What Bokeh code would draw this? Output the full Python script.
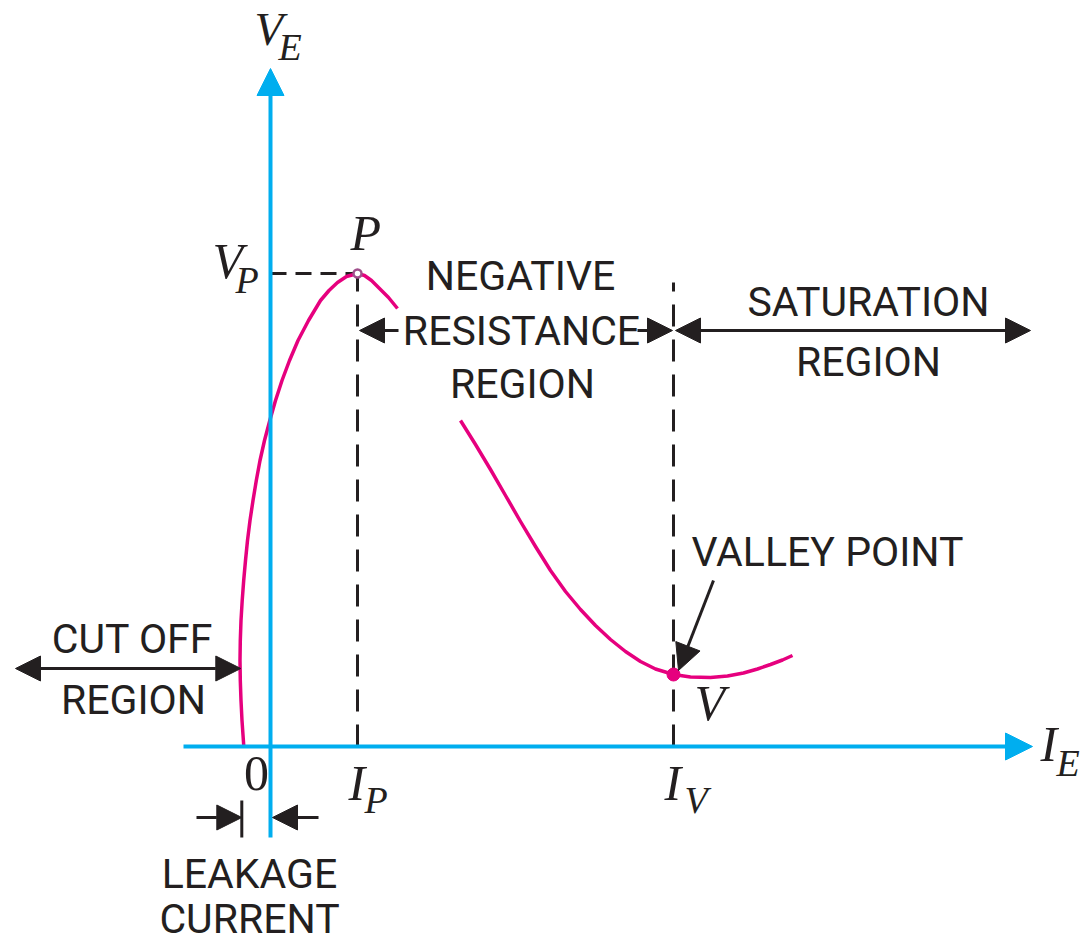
from bokeh.plotting import figure
from bokeh.models import Range1d, Arrow, NormalHead, Label
from bokeh.embed import file_html
from bokeh.resources import INLINE

# ---- data (emitter current I_E, emitter voltage V_E; arbitrary units) ----
ie_rise = [-0.267, -0.285, -0.295, -0.302, -0.305, -0.302, -0.295, -0.283, -0.268, -0.250,
           -0.230, -0.205, -0.175, -0.142, -0.105, -0.060, -0.007, 0.050, 0.115, 0.190,
           0.275, 0.380, 0.500, 0.585, 0.670, 0.760, 0.870, 0.940, 1.010, 1.080, 1.180, 1.270]
ve_rise = [0.00, 0.26, 0.46, 0.66, 0.86, 1.06, 1.26, 1.46, 1.66, 1.86,
           2.06, 2.26, 2.46, 2.66, 2.86, 3.06, 3.26, 3.46, 3.66, 3.86,
           4.06, 4.26, 4.46, 4.56, 4.64, 4.70, 4.73, 4.71, 4.66, 4.59, 4.49, 4.38]
ie_fall = [1.90, 2.05, 2.20, 2.35, 2.50, 2.65, 2.80, 2.95, 3.10, 3.25, 3.40, 3.55,
           3.70, 3.85, 4.03, 4.20, 4.40, 4.57, 4.73, 4.87, 5.00, 5.12, 5.22]
ve_fall = [3.26, 3.02, 2.77, 2.51, 2.25, 2.00, 1.76, 1.55, 1.37, 1.21, 1.07, 0.95,
           0.85, 0.775, 0.72, 0.695, 0.69, 0.705, 0.735, 0.775, 0.82, 0.865, 0.91]
I_P, V_P = 0.87, 4.73      # peak point
I_V, V_V = 4.03, 0.72      # valley point
I_LEAK = -0.267            # leakage current

# ---- layout helpers: reference pixel -> data coordinate ----
def X(px):
    return (px - 270) / 100.0

def Y(py):
    return (746 - py) / 100.0

BLUE = "#00aeef"
PINK = "#e6007e"
INK = "#231f20"
SANS = "Roboto"
SERIF = "Liberation Serif"

W, H = 1091, 945
p = figure(width=W, height=H, x_range=Range1d(X(0), X(W)), y_range=Range1d(Y(H), Y(0)),
           output_backend="svg", toolbar_location=None, min_border=0,
           x_axis_type=None, y_axis_type=None)
p.grid.visible = False
p.outline_line_color = None
p.background_fill_color = "white"
p.border_fill_color = "white"

# dashed guide lines
p.line([0, I_P], [V_P, V_P], line_color=INK, line_width=3, line_dash="16 9")
p.line([I_P, I_P], [0, V_P], line_color=INK, line_width=3, line_dash="22 13")
p.line([I_V, I_V], [0, Y(282)], line_color=INK, line_width=3, line_dash="22 13")

# axes with arrow heads
p.add_layout(Arrow(x_start=X(183), y_start=0, x_end=X(1032), y_end=0, line_color=BLUE, line_width=4,
                   end=NormalHead(size=27, fill_color=BLUE, line_color=BLUE, line_width=1)))
p.add_layout(Arrow(x_start=0, y_start=Y(837), x_end=0, y_end=Y(68), line_color=BLUE, line_width=4,
                   end=NormalHead(size=27, fill_color=BLUE, line_color=BLUE, line_width=1)))

# characteristic curve
p.line(ie_rise, ve_rise, line_color=PINK, line_width=3.5, line_join="round")
p.line(ie_fall, ve_fall, line_color=PINK, line_width=3.5, line_join="round")
p.scatter([I_P], [V_P], size=8, marker="circle", fill_color="white", line_color="#a0508c", line_width=2.5)
p.scatter([I_V], [V_V], size=13, marker="circle", fill_color=PINK, line_color=PINK)

# black annotation arrows
def head(sz=25):
    return NormalHead(size=sz, fill_color=INK, line_color=INK, line_width=1)

# negative resistance region
p.add_layout(Arrow(x_start=X(398), y_start=Y(330), x_end=I_P + 0.02, y_end=Y(330),
                   line_color=INK, line_width=3, end=head()))
p.add_layout(Arrow(x_start=X(637), y_start=Y(330), x_end=I_V - 0.01, y_end=Y(330),
                   line_color=INK, line_width=3, end=head()))
# saturation region
p.add_layout(Arrow(x_start=I_V + 0.02, y_start=Y(330), x_end=X(1030), y_end=Y(330),
                   line_color=INK, line_width=3, start=head(), end=head()))
# cut off region
p.add_layout(Arrow(x_start=X(15), y_start=Y(668), x_end=I_LEAK - 0.03, y_end=Y(668),
                   line_color=INK, line_width=3, start=head(), end=head()))
# valley pointer
p.add_layout(Arrow(x_start=X(713), y_start=Y(580), x_end=I_V + 0.05, y_end=V_V + 0.04,
                   line_color=INK, line_width=3, end=head(26)))
# leakage current arrows
p.add_layout(Arrow(x_start=X(196), y_start=Y(817), x_end=I_LEAK - 0.02, y_end=Y(817),
                   line_color=INK, line_width=3, end=head(25)))
p.add_layout(Arrow(x_start=X(318), y_start=Y(817), x_end=0.02, y_end=Y(817),
                   line_color=INK, line_width=3, end=head(25)))
p.segment(x0=[I_LEAK - 0.02], y0=[Y(800)], x1=[I_LEAK - 0.02], y1=[Y(837)], line_color=INK, line_width=3)

# sans labels (base = pixel row of the letters' bottom edge)
SANS_PX = 41
def sans(txt, cx, base):
    p.add_layout(Label(x=X(cx), y=Y(base - 0.4 * SANS_PX), text=txt, text_font=SANS,
                       text_font_size=f"{SANS_PX}px", text_color=INK, text_align="center",
                       text_baseline="alphabetic"))

sans("NEGATIVE", 520, 292)
sans("RESISTANCE", 521, 347)
sans("REGION", 522, 400)
sans("SATURATION", 868, 318)
sans("REGION", 868, 378)
sans("VALLEY POINT", 827, 568)
sans("CUT OFF", 132, 655)
sans("REGION", 133, 716)
sans("LEAKAGE", 249, 890)
sans("CURRENT", 249, 935)

# serif italic math labels
def serif(txt, left, base, size, style="italic", align="left"):
    p.add_layout(Label(x=X(left), y=Y(base - 0.4 * size), text=txt, text_font=SERIF,
                       text_font_size=f"{size}px", text_font_style=style, text_color=INK,
                       text_align=align, text_baseline="alphabetic"))

BIG, SUB = 50, 38
serif("V", 254, 47, 47)
serif("E", 278, 62, SUB)
serif("V", 212, 280, BIG)
serif("P", 235, 295, SUB)
serif("P", 350, 252, BIG)
serif("0", 256, 793, BIG, style="normal", align="center")
serif("I", 348, 802, BIG)
serif("P", 364, 815, SUB)
serif("I", 664, 802, BIG)
serif("V", 684, 815, SUB)
serif("V", 694, 722, BIG)
serif("I", 1040, 763, BIG)
serif("E", 1056, 778, SUB)

open("out.html", "w").write(file_html(p, INLINE))
